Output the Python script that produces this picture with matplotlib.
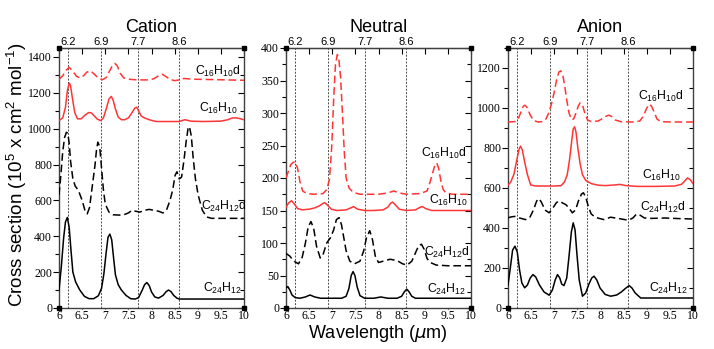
import matplotlib
matplotlib.use("Agg")
import matplotlib.pyplot as plt
from matplotlib.ticker import MultipleLocator, FormatStrFormatter

plt.rcParams['font.family'] = ['Liberation Sans', 'DejaVu Sans']
plt.rcParams['mathtext.default'] = 'regular'

# ---- data (wavelength in um, cross section) ----
# Cation
cat_c24h12_x = [6.0, 6.05, 6.1, 6.14, 6.18, 6.22, 6.26, 6.3, 6.36, 6.45, 6.55, 6.65, 6.75, 6.85, 6.92,
                6.97, 7.02, 7.06, 7.1, 7.14, 7.18, 7.22, 7.28, 7.35, 7.45, 7.55, 7.65, 7.72, 7.8, 7.85,
                7.9, 7.95, 8.0, 8.07, 8.15, 8.25, 8.32, 8.37, 8.42, 8.48, 8.55, 8.6, 9.0, 10.0]
cat_c24h12_y = [100, 230, 390, 480, 505, 450, 320, 200, 145, 100, 65, 52, 52, 68, 110,
                190, 310, 395, 412, 380, 280, 185, 130, 100, 70, 52, 50, 58, 100, 130,
                142, 125, 90, 62, 55, 70, 92, 100, 92, 70, 55, 50, 50, 50]

cat_c24h12d_x = [6.0, 6.04, 6.08, 6.12, 6.16, 6.19, 6.22, 6.25, 6.3, 6.35, 6.42, 6.5, 6.56, 6.61, 6.66,
                 6.7, 6.74, 6.78, 6.81, 6.84, 6.88, 6.92, 6.96, 7.0, 7.08, 7.17, 7.3, 7.4, 7.5, 7.58,
                 7.65, 7.75, 7.85, 7.95, 8.05, 8.15, 8.25, 8.33, 8.4, 8.46, 8.51, 8.55, 8.6, 8.65, 8.7,
                 8.75, 8.79, 8.82, 8.86, 8.9, 8.95, 9.01, 9.1, 9.19, 9.3, 10.0]
cat_c24h12d_y = [630, 740, 870, 950, 980, 975, 920, 820, 720, 680, 656, 600, 545, 525, 560,
                 640, 720, 800, 880, 925, 900, 780, 660, 580, 535, 520, 518, 520, 530, 545,
                 540, 535, 545, 550, 545, 540, 530, 550, 600, 660, 740, 760, 720, 730, 820,
                 930, 1000, 1012, 960, 840, 720, 628, 545, 508, 500, 500]

cat_c16h10_x = [6.0, 6.08, 6.14, 6.18, 6.22, 6.25, 6.29, 6.34, 6.4, 6.48, 6.56, 6.64, 6.7, 6.75, 6.82,
                6.9, 6.96, 7.02, 7.08, 7.13, 7.17, 7.22, 7.28, 7.35, 7.42, 7.5, 7.58, 7.64, 7.68, 7.72,
                7.78, 7.85, 7.95, 8.1, 8.4, 8.6, 8.72, 8.85, 9.1, 9.5, 9.65, 9.75, 9.85, 10.0]
cat_c16h10_y = [1045, 1060, 1120, 1210, 1255, 1240, 1170, 1090, 1055, 1055, 1075, 1090, 1088, 1075, 1055,
                1045, 1060, 1110, 1165, 1180, 1160, 1110, 1065, 1050, 1050, 1060, 1090, 1115, 1120, 1100,
                1070, 1060, 1050, 1040, 1040, 1040, 1050, 1042, 1040, 1042, 1050, 1060, 1060, 1050]

cat_c16h10d_x = [6.0, 6.08, 6.15, 6.22, 6.3, 6.38, 6.45, 6.53, 6.6, 6.68, 6.76, 6.85, 6.94, 7.02, 7.1,
                 7.16, 7.21, 7.26, 7.32, 7.4, 7.5, 7.7, 7.9, 8.05, 8.15, 8.23, 8.3, 8.4, 8.5, 8.6,
                 8.7, 8.9, 9.3, 10.0]
cat_c16h10d_y = [1275, 1295, 1325, 1342, 1320, 1292, 1283, 1295, 1315, 1323, 1305, 1282, 1273, 1285, 1325,
                 1355, 1364, 1350, 1310, 1283, 1276, 1272, 1272, 1278, 1295, 1304, 1293, 1275, 1268, 1272,
                 1280, 1276, 1274, 1270]

# Neutral
neu_c24h12_x = [6.0, 6.04, 6.08, 6.13, 6.2, 6.3, 6.42, 6.52, 6.62, 6.75, 7.0, 7.2, 7.3, 7.36, 7.41,
                7.45, 7.49, 7.54, 7.6, 7.7, 7.9, 8.05, 8.2, 8.4, 8.5, 8.56, 8.61, 8.66, 8.72, 8.8,
                9.0, 10.0]
neu_c24h12_y = [31, 33, 28, 20, 16, 15, 17, 20, 17, 15, 15, 15, 18, 30, 50,
                56, 50, 32, 19, 15, 15, 17, 15, 15, 18, 25, 29, 25, 18, 15,
                15, 15]

neu_c24h12d_x = [6.0, 6.08, 6.17, 6.27, 6.35, 6.42, 6.48, 6.54, 6.6, 6.66, 6.74, 6.8, 6.88, 6.96, 7.03,
                 7.09, 7.15, 7.2, 7.25, 7.3, 7.38, 7.48, 7.6, 7.68, 7.74, 7.81, 7.87, 7.93, 8.0, 8.1,
                 8.25, 8.4, 8.52, 8.62, 8.72, 8.8, 8.87, 8.93, 8.99, 9.05, 9.12, 9.25, 9.5, 10.0]
neu_c24h12d_y = [84, 80, 72, 68, 78, 100, 125, 133, 122, 95, 77, 82, 100, 108, 120,
                 136, 139, 128, 108, 88, 72, 68, 72, 88, 108, 119, 105, 80, 70, 72,
                 75, 73, 68, 66, 72, 85, 96, 98, 90, 76, 70, 66, 65, 65]

neu_c16h10_x = [6.0, 6.06, 6.12, 6.18, 6.25, 6.35, 6.5, 6.62, 6.72, 6.8, 6.84, 6.9, 6.98, 7.1, 7.3,
                7.4, 7.46, 7.55, 7.7, 7.9, 8.1, 8.2, 8.26, 8.3, 8.36, 8.45, 8.6, 8.8, 8.9, 8.95,
                9.02, 9.15, 9.5, 10.0]
neu_c16h10_y = [155, 162, 165, 160, 153, 151, 152, 154, 157, 161, 162, 158, 152, 150, 151,
                154, 156, 152, 150, 150, 151, 155, 161, 163, 159, 152, 150, 151, 155, 156,
                153, 150, 150, 150]

neu_c16h10d_x = [6.0, 6.05, 6.1, 6.15, 6.2, 6.25, 6.3, 6.36, 6.45, 6.6, 6.8, 6.88, 6.94, 6.99, 7.03,
                 7.07, 7.11, 7.14, 7.18, 7.22, 7.26, 7.3, 7.36, 7.45, 7.6, 8.0, 8.2, 8.33, 8.45, 8.6,
                 8.9, 9.05, 9.12, 9.18, 9.22, 9.26, 9.3, 9.35, 9.4, 9.46, 9.6, 10.0]
neu_c16h10d_y = [200, 210, 220, 224, 225, 215, 195, 180, 176, 175, 176, 182, 198, 250, 320,
                 375, 390, 385, 355, 300, 240, 200, 185, 178, 175, 175, 177, 180, 177, 175,
                 176, 180, 195, 210, 220, 223, 215, 195, 182, 177, 175, 175]

# Anion
ani_c24h12_x = [6.0, 6.05, 6.1, 6.15, 6.2, 6.25, 6.3, 6.36, 6.42, 6.48, 6.54, 6.6, 6.68, 6.78, 6.89,
                6.96, 7.02, 7.07, 7.12, 7.16, 7.21, 7.27, 7.32, 7.37, 7.41, 7.45, 7.49, 7.54, 7.61, 7.68,
                7.75, 7.81, 7.86, 7.92, 7.99, 8.1, 8.22, 8.35, 8.45, 8.55, 8.62, 8.68, 8.75, 8.87, 9.2,
                10.0]
ani_c24h12_y = [115, 200, 290, 309, 280, 190, 125, 101, 115, 150, 167, 155, 115, 80, 64,
                90, 140, 167, 150, 120, 112, 150, 260, 380, 426, 390, 270, 140, 59, 75,
                120, 150, 159, 140, 100, 68, 59, 65, 80, 100, 112, 100, 75, 50, 50,
                50]

ani_c24h12d_x = [6.0, 6.08, 6.15, 6.25, 6.38, 6.47, 6.55, 6.62, 6.67, 6.72, 6.8, 6.89, 6.97, 7.05, 7.12,
                 7.18, 7.25, 7.32, 7.39, 7.46, 7.53, 7.59, 7.63, 7.68, 7.74, 7.8, 7.88, 7.97, 8.08, 8.15,
                 8.22, 8.32, 8.45, 8.6, 8.7, 8.76, 8.81, 8.87, 8.95, 9.1, 9.4, 9.7, 10.0]
ani_c24h12d_y = [451, 456, 458, 450, 442, 452, 490, 535, 547, 530, 490, 476, 500, 528, 534,
                 525, 517, 500, 476, 490, 540, 570, 576, 555, 505, 470, 455, 448, 442, 448,
                 454, 450, 445, 439, 450, 465, 470, 462, 450, 448, 450, 447, 445]

ani_c16h10_x = [6.0, 6.06, 6.13, 6.19, 6.24, 6.27, 6.31, 6.36, 6.42, 6.49, 6.6, 6.8, 7.0, 7.15, 7.22,
                7.28, 7.33, 7.38, 7.41, 7.44, 7.47, 7.51, 7.56, 7.61, 7.68, 7.8, 7.95, 8.1, 8.3, 8.42,
                8.55, 8.8, 9.2, 9.6, 9.75, 9.82, 9.88, 9.94, 10.0]
ani_c16h10_y = [615, 630, 670, 740, 795, 809, 790, 730, 667, 615, 610, 610, 610, 612, 630,
                665, 740, 840, 895, 906, 880, 800, 720, 667, 638, 622, 614, 612, 615, 618,
                612, 608, 608, 610, 618, 635, 650, 642, 622]

ani_c16h10d_x = [6.0, 6.15, 6.22, 6.28, 6.33, 6.37, 6.42, 6.48, 6.55, 6.65, 6.75, 6.82, 6.88, 6.94, 7.0,
                 7.05, 7.1, 7.14, 7.18, 7.22, 7.27, 7.32, 7.37, 7.42, 7.47, 7.52, 7.56, 7.61, 7.66, 7.72,
                 7.8, 7.95, 8.05, 8.13, 8.18, 8.24, 8.32, 8.45, 8.7, 8.85, 8.93, 8.99, 9.05, 9.1, 9.16,
                 9.22, 9.3, 9.5, 10.0]
ani_c16h10d_y = [930, 932, 945, 980, 1008, 1014, 1000, 965, 938, 930, 932, 945, 975, 1020, 1080,
                 1140, 1180, 1186, 1170, 1120, 1040, 975, 942, 945, 975, 1010, 1026, 1015, 975, 940,
                 932, 935, 948, 960, 964, 958, 940, 931, 930, 935, 960, 995, 1019, 1010, 980,
                 945, 932, 930, 930]

band_positions = [6.2, 6.9, 7.7, 8.6]
band_labels = ['6.2', '6.9', '7.7', '8.6']
panel_titles = ['Cation', 'Neutral', 'Anion']
species = [r'C$_{24}$H$_{12}$', r'C$_{24}$H$_{12}$d', r'C$_{16}$H$_{10}$', r'C$_{16}$H$_{10}$d']

panels = [
    dict(curves=[(cat_c24h12_x, cat_c24h12_y), (cat_c24h12d_x, cat_c24h12d_y),
                 (cat_c16h10_x, cat_c16h10_y), (cat_c16h10d_x, cat_c16h10d_y)],
         ymax=1450, major=200, minor=100,
         labels=[(9.95, 91), (10.06, 545), (9.87, 1092), (9.92, 1300)]),
    dict(curves=[(neu_c24h12_x, neu_c24h12_y), (neu_c24h12d_x, neu_c24h12d_y),
                 (neu_c16h10_x, neu_c16h10_y), (neu_c16h10d_x, neu_c16h10d_y)],
         ymax=400, major=50, minor=25,
         labels=[(9.9, 23), (9.98, 80), (9.94, 160), (9.9, 232)]),
    dict(curves=[(ani_c24h12_x, ani_c24h12_y), (ani_c24h12d_x, ani_c24h12d_y),
                 (ani_c16h10_x, ani_c16h10_y), (ani_c16h10d_x, ani_c16h10d_y)],
         ymax=1300, major=200, minor=100,
         labels=[(9.9, 79), (9.85, 484), (9.73, 646), (9.79, 1042)]),
]

colors = ['black', 'black', '#ff3535', '#ff3535']
styles = ['-', '--', '-', '--']
lefts = [59, 286, 508]

W, H = 714, 349
fig = plt.figure(figsize=(W / 100, H / 100), dpi=100)

for i, p in enumerate(panels):
    ax = fig.add_axes([lefts[i] / W, 1 - 308 / H, 185 / W, 260 / H])
    for b in band_positions:
        ax.axvline(b, color='0.3', lw=0.7, ls=(0, (2, 1.5)), zorder=1)
    for (x, y), c, s in zip(p['curves'], colors, styles):
        if s == '--':
            ax.plot(x, y, color=c, lw=1.1, ls=(0, (5, 2.5)), zorder=3)
        else:
            ax.plot(x, y, color=c, lw=1.1, zorder=3)
    for (tx, ty), name in zip(p['labels'], species):
        ax.text(tx, ty, name, ha='right', va='baseline', fontsize=8.8, color='black',
                clip_on=False, zorder=4)

    ax.set_xlim(6, 10)
    ax.set_ylim(0, p['ymax'])
    ax.xaxis.set_major_locator(MultipleLocator(0.5))
    ax.xaxis.set_major_formatter(FormatStrFormatter('%g'))
    ax.yaxis.set_major_locator(MultipleLocator(p['major']))
    ax.yaxis.set_minor_locator(MultipleLocator(p['minor']))
    ax.tick_params(axis='both', which='both', labelsize=8.5, width=0.8)
    ax.tick_params(axis='y', which='major', direction='out', length=4, pad=1)
    ax.tick_params(axis='y', which='minor', direction='out', length=3)
    ax.tick_params(axis='x', which='major', direction='out', length=1, pad=0.5)
    for lab in ax.get_xticklabels() + ax.get_yticklabels():
        lab.set_family('Liberation Serif')
    # mirrored ticks (inward) on right and top
    ax.tick_params(which='both', right=True, top=True)
    for t in ax.yaxis.get_major_ticks() + ax.yaxis.get_minor_ticks():
        t.tick2line.set_marker(0)
    for t in ax.xaxis.get_major_ticks():
        t.tick2line.set_marker(3)
        t.tick2line.set_markersize(4)
    for sp in ax.spines.values():
        sp.set_color('0.25')
        sp.set_linewidth(1.0)

    sec = ax.secondary_xaxis('top')
    sec.set_xticks(band_positions)
    sec.set_xticklabels(band_labels)
    sec.tick_params(length=0, labelsize=8, pad=1)

    ax.plot([0, 1, 0, 1], [0, 0, 1, 1], 's', ms=3, color='black',
            transform=ax.transAxes, clip_on=False, zorder=5)

    fig.text((lefts[i] + 92.5) / W, 1 - 27 / H, panel_titles[i], ha='center', va='center',
             fontsize=13)

fig.text(17 / W, 0.5, r'Cross section (10$^5$ x cm$^2$ mol$^{-1}$)', rotation=90,
         ha='center', va='center', fontsize=13.5)
fig.text(378 / W, 1 - 334 / H, r'Wavelength ($\mathit{\mu}$m)', ha='center', va='center',
         fontsize=13)

fig.savefig('out.png', dpi=100)
